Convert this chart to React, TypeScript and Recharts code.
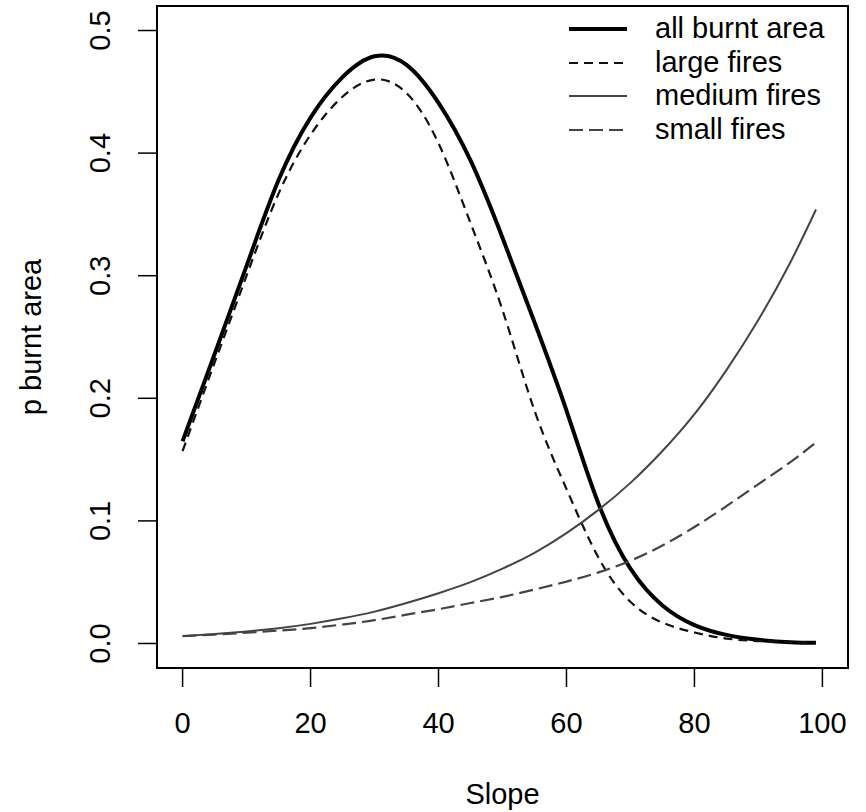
import { LineChart, Line, XAxis, YAxis, ReferenceArea, Legend } from 'recharts'

document.body.style.margin = '0'

const FONT = '"Liberation Sans", Arial, sans-serif'

// slope values (x)
const SLOPE = [0, 5, 10, 15, 20, 25, 30, 35, 40, 45, 50, 55, 60, 65, 70, 75, 80, 85, 90, 95, 99]

const ALL_BURNT = [0.165, 0.236, 0.308, 0.378, 0.429, 0.462, 0.479, 0.472, 0.441, 0.394, 0.331, 0.262, 0.190, 0.114, 0.061, 0.031, 0.015, 0.007, 0.003, 0.001, 0.0005]
const LARGE     = [0.157, 0.229, 0.300, 0.367, 0.415, 0.446, 0.460, 0.449, 0.408, 0.343, 0.272, 0.190, 0.126, 0.070, 0.034, 0.017, 0.009, 0.004, 0.002, 0.001, 0.0005]
const MEDIUM    = [0.006, 0.0077, 0.0098, 0.0125, 0.016, 0.0205, 0.026, 0.033, 0.041, 0.050, 0.061, 0.074, 0.090, 0.109, 0.131, 0.157, 0.187, 0.223, 0.264, 0.311, 0.354]
const SMALL     = [0.006, 0.0073, 0.0088, 0.0105, 0.0125, 0.0155, 0.019, 0.0235, 0.028, 0.033, 0.038, 0.044, 0.0505, 0.058, 0.0675, 0.080, 0.095, 0.112, 0.130, 0.148, 0.164]

const X_TICKS = [0, 20, 40, 60, 80, 100]
const Y_TICKS = [0, 0.1, 0.2, 0.3, 0.4, 0.5]

const DATA = SLOPE.map((s, i) => ({
  slope: s,
  all: ALL_BURNT[i],
  large: LARGE[i],
  medium: MEDIUM[i],
  small: SMALL[i],
}))

const SERIES = [
  { key: 'all',    name: 'all burnt area', color: '#000', width: 4,   dash: undefined },
  { key: 'large',  name: 'large fires',    color: '#111', width: 2.2, dash: '9 6' },
  { key: 'medium', name: 'medium fires',   color: '#444', width: 2,   dash: undefined },
  { key: 'small',  name: 'small fires',    color: '#444', width: 2.2, dash: '14 6' },
]

function YTick(props: any) {
  const { x, y, payload } = props
  return (
    <text
      x={x} y={y}
      transform={`rotate(-90 ${x} ${y})`}
      textAnchor="middle"
      fill="#000"
      fontSize={29}
      fontFamily={FONT}
    >
      {Number(payload.value).toFixed(1)}
    </text>
  )
}

function LegendBox() {
  return (
    <div style={{ fontFamily: FONT, fontSize: 29, color: '#000' }}>
      {SERIES.map(s => (
        <div key={s.key} style={{ display: 'flex', alignItems: 'center', height: 33.7, lineHeight: '33.7px' }}>
          <svg width={64} height={20} style={{ marginRight: 25, display: 'block' }}>
            <line x1={3} y1={10} x2={61} y2={10} stroke={s.color} strokeWidth={s.width} strokeDasharray={s.dash} />
          </svg>
          <span>{s.name}</span>
        </div>
      ))}
    </div>
  )
}

export default function App() {
  return (
    <LineChart width={866} height={812} data={DATA} margin={{ top: 6, right: 18, left: 0, bottom: 0 }}>
      <XAxis
        dataKey="slope"
        type="number"
        domain={[-4, 104]}
        ticks={X_TICKS}
        interval={0}
        allowDataOverflow
        height={144}
        axisLine={false}
        tickSize={19}
        tickMargin={25}
        tickLine={{ stroke: '#000', strokeWidth: 1.5 }}
        tick={{ fill: '#000', fontSize: 29, fontFamily: FONT }}
        label={(p: any) => {
          const vb = p?.viewBox ?? { x: 157, y: 668, width: 691, height: 144 }
          return (
            <text x={vb.x + vb.width / 2} y={vb.y + vb.height - 8} textAnchor="middle" fill="#000" fontSize={29} fontFamily={FONT}>
              Slope
            </text>
          )
        }}
      />
      <YAxis
        type="number"
        domain={[-0.02, 0.52]}
        ticks={Y_TICKS}
        interval={0}
        allowDataOverflow
        width={157}
        axisLine={false}
        tickSize={19}
        tickMargin={28}
        tickLine={{ stroke: '#000', strokeWidth: 1.5 }}
        tick={<YTick />}
        label={(p: any) => {
          const vb = p?.viewBox ?? { x: 0, y: 6, width: 157, height: 662 }
          const cx = vb.x + 41
          const cy = vb.y + vb.height / 2
          return (
            <text x={cx} y={cy} transform={`rotate(-90 ${cx} ${cy})`} textAnchor="middle" fill="#000" fontSize={29} fontFamily={FONT}>
              p burnt area
            </text>
          )
        }}
      />

      <ReferenceArea x1={-4} x2={104} y1={-0.02} y2={0.52} fill="none" stroke="#000" strokeWidth={2} ifOverflow="visible" />

      {SERIES.map(s => (
        <Line
          key={s.key}
          dataKey={s.key}
          name={s.name}
          type="natural"
          stroke={s.color}
          strokeWidth={s.width}
          strokeDasharray={s.dash}
          dot={false}
          activeDot={false}
          isAnimationActive={false}
        />
      ))}

      <Legend
        layout="vertical"
        align="center"
        verticalAlign="middle"
        wrapperStyle={{ top: 12, left: 566, width: 290, height: 'auto' }}
        content={<LegendBox />}
      />
    </LineChart>
  )
}
